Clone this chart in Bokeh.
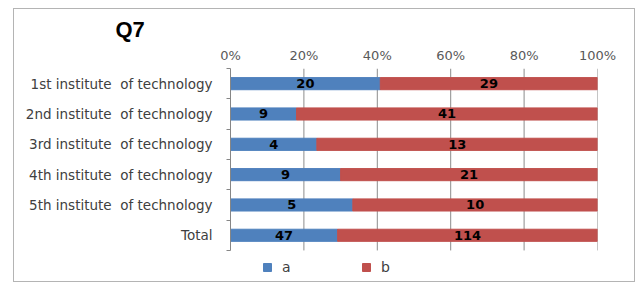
from bokeh.plotting import figure
from bokeh.models import (Range1d, FixedTicker, NumeralTickFormatter, LinearAxis,
                          ColumnDataSource, Legend, LegendItem)
from bokeh.core.properties import value
from bokeh.embed import file_html
from bokeh.resources import INLINE

categories = ["1st institute  of technology", "2nd institute  of technology",
              "3rd institute  of technology", "4th institute  of technology",
              "5th institute  of technology", "Total"]
series_a = [20, 9, 4, 9, 5, 47]
series_b = [29, 41, 13, 21, 10, 114]
x_ticks = [0, 0.2, 0.4, 0.6, 0.8, 1.0]

BLUE = "#4F81BD"
RED = "#C0504D"

n = len(categories)
ypos = [n - 1 - i for i in range(n)]
tot = [a + b for a, b in zip(series_a, series_b)]
fa = [a / t for a, t in zip(series_a, tot)]
fb = [b / t for b, t in zip(series_b, tot)]

src = ColumnDataSource(dict(
    y=ypos, a=series_a, b=series_b, fa=fa, fb=fb,
    ca=[f / 2 for f in fa], cb=[x + f / 2 for x, f in zip(fa, fb)],
    ta=[str(v) for v in series_a], tb=[str(v) for v in series_b],
    zero=[0] * n, one=[1] * n,
))

# frame extends below the last category to hold the legend
y_lo, y_hi = -0.5, n - 0.5
p = figure(width=622, height=274, output_backend="svg", toolbar_location=None,
           x_range=Range1d(0, 1), y_range=Range1d(y_lo - 1.09, y_hi),
           x_axis_location="above", y_axis_type=None,
           min_border_left=216, min_border_right=39, min_border_top=59, min_border_bottom=0,
           styles={"border": "1px solid #b4b4b4", "margin-left": "13px", "margin-top": "8px"})
p.outline_line_color = None
p.background_fill_color = "white"
p.border_fill_color = "white"

# title
p.title.text = "Q7"
p.title.align = "left"
p.title.offset = -115
p.title.text_font = "Liberation Sans"
p.title.text_font_style = "bold"
p.title.text_font_size = "22px"
p.title.text_color = "black"
p.title.standoff = 5

# top axis
xa = p.xaxis[0]
xa.ticker = FixedTicker(ticks=x_ticks)
xa.formatter = NumeralTickFormatter(format="0%")
xa.axis_line_color = None
xa.major_tick_line_color = None
xa.minor_tick_line_color = None
xa.major_tick_out = 0
xa.major_label_text_font = "DejaVu Sans"
xa.major_label_text_font_size = "13px"
xa.major_label_text_color = "#595959"
xa.major_label_standoff = 6

p.xgrid.grid_line_color = None
p.ygrid.grid_line_color = None

# vertical gridlines limited to the category band
gx = x_ticks[1:]
p.segment(x0=gx, x1=gx, y0=[y_lo] * len(gx), y1=[y_hi] * len(gx), line_color="#8c8c8c", line_width=1)

# left axis
ya = LinearAxis(ticker=FixedTicker(ticks=ypos, minor_ticks=[v - 0.5 for v in range(n + 1)]),
                bounds=(y_lo, y_hi))
ya.major_label_overrides = {y: c.replace("  ", " \u00a0") for y, c in zip(ypos, categories)}
ya.axis_line_color = "#868686"
ya.major_tick_out = 0
ya.major_tick_in = 0
ya.minor_tick_out = 4
ya.minor_tick_in = 0
ya.minor_tick_line_color = "#868686"
ya.major_label_text_font = "DejaVu Sans"
ya.major_label_text_font_size = "13.5px"
ya.major_label_text_color = "#404040"
ya.major_label_standoff = 14
p.add_layout(ya, "left")

ra = p.hbar(y="y", left="zero", right="fa", height=0.4, color=BLUE, source=src)
rb = p.hbar(y="y", left="fa", right="one", height=0.4, color=RED, source=src)

for xcol, tcol in (("ca", "ta"), ("cb", "tb")):
    p.text(x=xcol, y="y", text=tcol, source=src, text_align="center", text_baseline="middle",
           text_font=value("DejaVu Sans"), text_font_style="bold", text_font_size="13px",
           text_color="black")

legend = Legend(items=[LegendItem(label="a", renderers=[ra]), LegendItem(label="b", renderers=[rb])],
                orientation="horizontal", location=(32, 8), spacing=59, padding=0, margin=0,
                glyph_width=10, glyph_height=10, label_standoff=10,
                label_text_font="DejaVu Sans", label_text_font_size="14px",
                label_text_color="#404040", border_line_color=None, background_fill_alpha=0)
p.add_layout(legend, "center")

open("out.html", "w").write(file_html(p, INLINE))
